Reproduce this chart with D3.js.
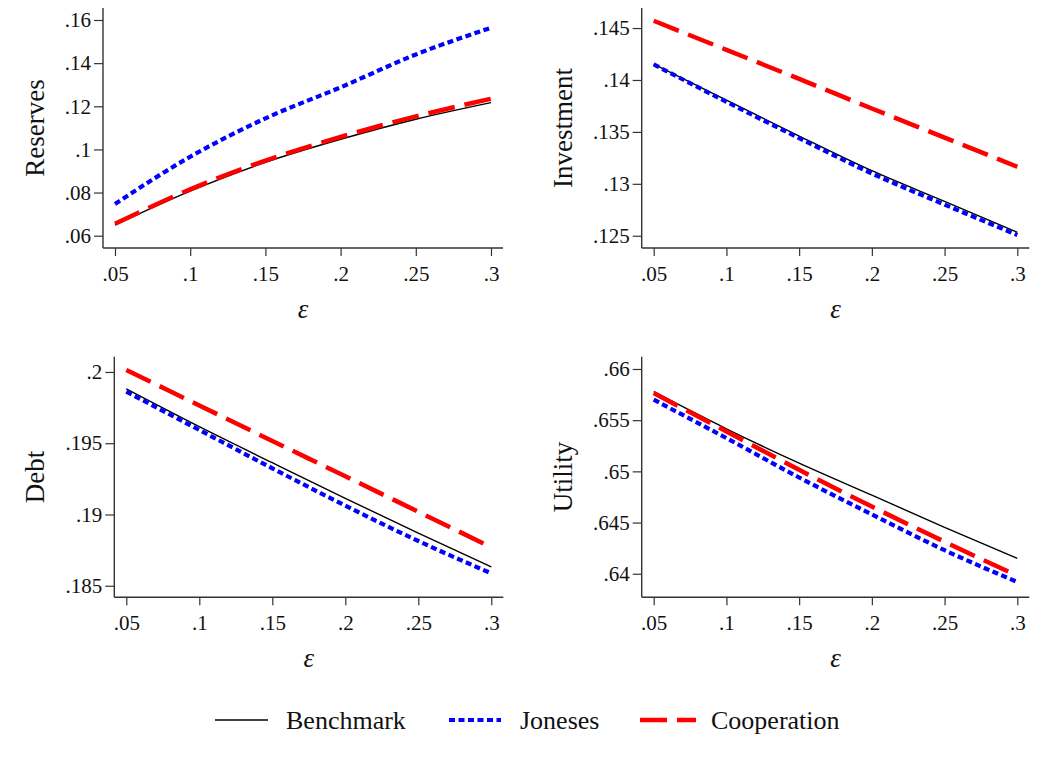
<!DOCTYPE html>
<html>
<head>
<meta charset="utf-8">
<script src="https://cdn.jsdelivr.net/npm/d3@7"></script>
<style>
  body { margin: 0; background: #fff; }
  svg text { font-family: 'Liberation Serif', 'Times New Roman', serif; fill: #111; }
</style>
</head>
<body>
<div id="chart"></div>
<script>
/* DATA */
const epsilon = [0.05, 0.1, 0.15, 0.2, 0.25, 0.3];

const reservesBenchmark   = [0.0650, 0.0807, 0.0940, 0.1047, 0.1140, 0.1217];
const reservesJoneses     = [0.0747, 0.0966, 0.1144, 0.1288, 0.1440, 0.1564];
const reservesCooperation = [0.0655, 0.0815, 0.0948, 0.1058, 0.1153, 0.1235];

const investmentBenchmark   = [0.14153, 0.13807, 0.13460, 0.13126, 0.12831, 0.12533];
const investmentJoneses     = [0.14150, 0.13790, 0.13440, 0.13100, 0.12800, 0.12507];
const investmentCooperation = [0.14570, 0.14290, 0.14010, 0.13725, 0.13445, 0.13164];

const debtBenchmark   = [0.19881, 0.19616, 0.19363, 0.19113, 0.18870, 0.18633];
const debtJoneses     = [0.19862, 0.19593, 0.19324, 0.19062, 0.18814, 0.18587];
const debtCooperation = [0.20014, 0.19765, 0.19516, 0.19268, 0.19019, 0.18770];

const utilityBenchmark   = [0.65778, 0.65416, 0.65080, 0.64767, 0.64454, 0.64151];
const utilityJoneses     = [0.65700, 0.65325, 0.64940, 0.64580, 0.64230, 0.63920];
const utilityCooperation = [0.65765, 0.65390, 0.65015, 0.64656, 0.64313, 0.63980];

const xTicks = [0.05, 0.1, 0.15, 0.2, 0.25, 0.3];
const reservesTicks   = [0.06, 0.08, 0.1, 0.12, 0.14, 0.16];
const investmentTicks = [0.125, 0.13, 0.135, 0.14, 0.145];
const debtTicks       = [0.185, 0.19, 0.195, 0.2];
const utilityTicks    = [0.64, 0.645, 0.65, 0.655, 0.66];

const seriesNames = ["Benchmark", "Joneses", "Cooperation"];

/* CONSTANTS */
const width = 1061, height = 761;
const serif = "'Liberation Serif', 'Times New Roman', serif";

const styles = {
  Benchmark:   {color: "#000000", width: 1.4, dash: null},
  Joneses:     {color: "#0000ff", width: 4.2, dash: "6,3.5"},
  Cooperation: {color: "#ff0000", width: 4.5, dash: "27,10"}
};

const panels = [
  {title: "Reserves",   series: [reservesBenchmark, reservesJoneses, reservesCooperation],
   ticks: reservesTicks, yDomain: [0.0543, 0.16556],
   left: 103, right: 503, top: 8, bottom: 248, titleX: 43.5},
  {title: "Investment", series: [investmentBenchmark, investmentJoneses, investmentCooperation],
   ticks: investmentTicks, yDomain: [0.12382, 0.14693],
   left: 641.7, right: 1029.3, top: 8, bottom: 248, titleX: 571.5},
  {title: "Debt",       series: [debtBenchmark, debtJoneses, debtCooperation],
   ticks: debtTicks, yDomain: [0.18419, 0.20107],
   left: 114.3, right: 503.3, top: 356.7, bottom: 597.3, titleX: 43.5},
  {title: "Utility",    series: [utilityBenchmark, utilityJoneses, utilityCooperation],
   ticks: utilityTicks, yDomain: [0.6377, 0.6612],
   left: 641.7, right: 1029.3, top: 356.7, bottom: 597.3, titleX: 571.5}
];

const fmt = v => d3.format(".3~f")(v).replace(/^0\./, ".");

/* SVG */
const svg = d3.select("#chart").append("svg")
  .attr("width", width)
  .attr("height", height);

panels.forEach(p => {
  const x = d3.scaleLinear().domain([0.05, 0.3]).range([p.left + 12, p.right - 12]);
  const y = d3.scaleLinear().domain(p.yDomain).range([p.bottom, p.top]);
  const g = svg.append("g");

  // x axis
  const xa = g.append("g")
    .attr("transform", `translate(0,${p.bottom})`)
    .call(d3.axisBottom(x).tickValues(xTicks).tickFormat(fmt).tickSize(8).tickPadding(10).tickSizeOuter(0))
    .attr("font-family", serif)
    .attr("font-size", 21);
  xa.select(".domain").remove();
  xa.selectAll("line").attr("stroke", "#333").attr("stroke-width", 1.2);
  xa.selectAll("text").attr("fill", "#111");
  g.append("line")
    .attr("x1", p.left).attr("x2", p.right)
    .attr("y1", p.bottom).attr("y2", p.bottom)
    .attr("stroke", "#333").attr("stroke-width", 1.4);

  // y axis
  const ya = g.append("g")
    .attr("transform", `translate(${p.left},0)`)
    .call(d3.axisLeft(y).tickValues(p.ticks).tickFormat(fmt).tickSize(9).tickPadding(3).tickSizeOuter(0))
    .attr("font-family", serif)
    .attr("font-size", 21);
  ya.select(".domain").remove();
  ya.selectAll("line").attr("stroke", "#333").attr("stroke-width", 1.2);
  ya.selectAll("text").attr("fill", "#111");
  g.append("line")
    .attr("x1", p.left).attr("x2", p.left)
    .attr("y1", p.top).attr("y2", p.bottom)
    .attr("stroke", "#333").attr("stroke-width", 1.4);

  // lines
  const line = d3.line()
    .x((d, i) => x(epsilon[i]))
    .y(d => y(d))
    .curve(d3.curveMonotoneX);

  p.series.forEach((s, i) => {
    const st = styles[seriesNames[i]];
    g.append("path")
      .datum(s)
      .attr("d", line)
      .attr("fill", "none")
      .attr("stroke", st.color)
      .attr("stroke-width", st.width)
      .attr("stroke-dasharray", st.dash);
  });

  // y title
  g.append("text")
    .attr("transform", `translate(${p.titleX},${(p.top + p.bottom) / 2}) rotate(-90)`)
    .attr("text-anchor", "middle")
    .style("font-size", "27px")
    .text(p.title);

  // x title
  g.append("text")
    .attr("x", (x(0.05) + x(0.3)) / 2)
    .attr("y", p.bottom + 70)
    .attr("text-anchor", "middle")
    .style("font-size", "27px")
    .style("font-style", "italic")
    .text("ε");
});

/* LEGEND */
const legendItems = [
  {name: "Benchmark",   x1: 215, x2: 268, tx: 286},
  {name: "Joneses",     x1: 449, x2: 501, tx: 520},
  {name: "Cooperation", x1: 640, x2: 696, tx: 711}
];
const legend = svg.append("g");
legendItems.forEach(it => {
  const st = styles[it.name];
  legend.append("line")
    .attr("x1", it.x1).attr("x2", it.x2)
    .attr("y1", 720).attr("y2", 720)
    .attr("stroke", st.color)
    .attr("stroke-width", st.width)
    .attr("stroke-dasharray", st.dash);
  legend.append("text")
    .attr("x", it.tx)
    .attr("y", 729)
    .style("font-size", "26px")
    .text(it.name);
});
</script>
</body>
</html>
